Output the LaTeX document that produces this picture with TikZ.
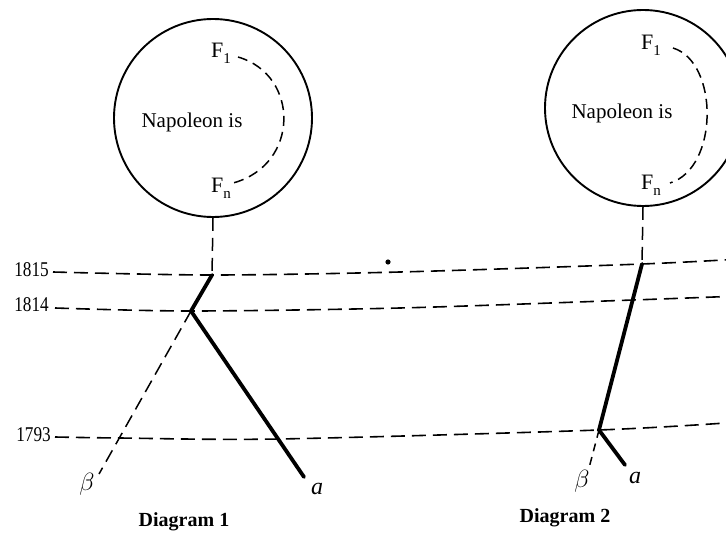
\documentclass[tikz,border=0pt]{standalone}
\usepackage{fontspec}
\setmainfont{Liberation Serif}
\newcommand{\yrtext}[1]{\scalebox{0.82}[1]{#1}}
\newcommand{\fsub}[1]{\raisebox{-6pt}{\fontsize{15}{16}\selectfont #1}}
\begin{document}
\begin{tikzpicture}[x=1pt,y=-1pt,
  era/.style={dash pattern=on 14pt off 7pt, line width=1.6pt},
  link/.style={dash pattern=on 13pt off 7pt, line width=1.5pt},
  fdash/.style={dash pattern=on 10pt off 6pt, line width=1.5pt},
  life/.style={line width=3.8pt, line cap=round},
  ball/.style={draw, circle, line width=1.9pt, inner sep=0pt},
  lab/.style={font=\fontsize{21}{24}\selectfont, inner sep=0pt},
  flab/.style={font=\fontsize{22}{24}\selectfont, inner sep=0pt, anchor=base west},
  yr/.style={font=\fontsize{21}{22}\selectfont, inner sep=0pt, anchor=east},
  greek/.style={font=\fontsize{24}{26}\selectfont, inner sep=0pt},
  dcaption/.style={font=\fontsize{20}{24}\selectfont\bfseries, inner sep=0pt}]
\useasboundingbox (0,0) rectangle (726,537);
\clip (0,0) rectangle (726,537);

% circles
\node[ball, minimum size=198pt] (c1) at (213,118) {};
\node[ball, minimum size=196pt] (c2) at (643,108) {};

\node[lab] (n1) at (192,122) {Napoleon is};
\node[lab] (n2) at (622,113) {Napoleon is};

\node[flab] (f11) at (211,58) {F\fsub{1}};
\node[flab] (f1n) at (211,193) {F\fsub{n}};
\node[flab] (f21) at (641,50) {F\fsub{1}};
\node[flab] (f2n) at (641,190) {F\fsub{n}};

\draw[fdash] (238,57) .. controls (300,75) and (300,165) .. (233,183);
\draw[fdash] (673,48) .. controls (719,62) and (719,168) .. (670,183);

% junction points
\coordinate (j15a) at (212,275);
\coordinate (j14a) at (191,311);
\coordinate (b1end) at (99,474);
\coordinate (a1end) at (304,477);
\coordinate (j15b) at (642,264);
\coordinate (j93b) at (599,430);
\coordinate (a2end) at (625,465);
\coordinate (b2end) at (589,468);

% era lines
\draw[era] plot[smooth] coordinates {(53,272) (j15a) (400,272) (j15b) (740,259)};
\draw[era] plot[smooth] coordinates {(55,308) (j14a) (400,308) (633,300) (740,296)};
\draw[era] plot[smooth] coordinates {(55,437) (119,438) (279,439) (j93b) (740,422)};

\node[yr] (y15) at (49,270) {\yrtext{1815}};
\node[yr] (y14) at (49,305) {\yrtext{1814}};
\node[yr] (y93) at (51,435) {\yrtext{1793}};

% diagram 1
\draw[link] (c1.south) -- (j15a);
\draw[life] (j15a) -- (j14a) -- (a1end);
\draw[link] (j14a) -- (b1end);
\node[greek] (b1) at (87,484) {$\beta$};
\node[greek] (a1) at (317,489) {\itshape a};

% diagram 2
\draw[link] (c2.south) -- (j15b);
\draw[life] (j15b) -- (j93b) -- (a2end);
\draw[link, dash pattern=on 8pt off 6pt] (j93b) -- (b2end);
\node[greek] (b2) at (582,481) {$\beta$};
\node[greek] (a2) at (635,478) {\itshape a};

\fill (388,262) circle (2.6pt);

\node[dcaption] (d1) at (184,522) {Diagram 1};
\node[dcaption] (d2) at (565,518) {Diagram 2};
\end{tikzpicture}
\end{document}
